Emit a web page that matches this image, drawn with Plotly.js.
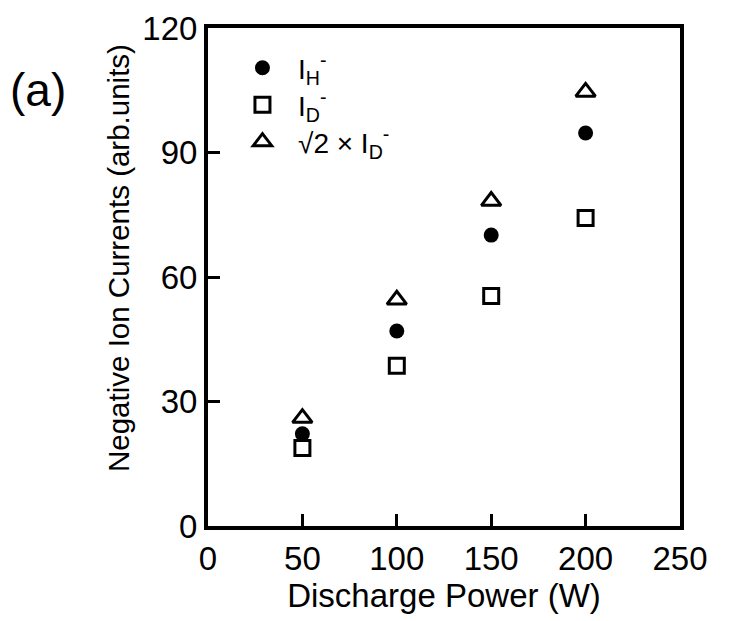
<!DOCTYPE html>
<html>
<head>
<meta charset="utf-8">
<script src="https://cdn.plot.ly/plotly-3.0.1.min.js"></script>
<style>html,body{margin:0;padding:0;background:#fff}#chart{width:738px;height:621px}</style>
</head>
<body>
<div id="chart"></div>
<script>
const power = [50, 100, 150, 200];
const iH = [22.2, 47.0, 70.1, 94.7];
const iD = [18.8, 38.6, 55.4, 74.2];
const sqrt2iD = [26.0, 54.5, 78.3, 104.6];
const seriesNames = ["I<sub>H</sub><sup>-</sup>", "I<sub>D</sub><sup>-</sup>", "\u221A2 \u00D7 I<sub>D</sub><sup>-</sup>"];
const xTicks = [0, 50, 100, 150, 200, 250];
const yTicks = [0, 30, 60, 90, 120];
const xTitle = "Discharge Power (W)";
const yTitle = "Negative Ion Currents (arb.units)";
const panelLabel = "(a)";

const FONT = "Liberation Sans, Arial, Helvetica, sans-serif";
const PAD = "\u00A0\u00A0";

const traces = [
  {x: power, y: iH, name: PAD + seriesNames[0], type: "scatter", mode: "markers", legend: "legend",
   marker: {symbol: "circle", size: 15, color: "#000"}},
  {x: power, y: iD, name: PAD + seriesNames[1], type: "scatter", mode: "markers", legend: "legend2",
   marker: {symbol: "square-open", size: 15, color: "#000", line: {width: 3}}},
  {x: power, y: sqrt2iD, name: PAD + seriesNames[2], type: "scatter", mode: "markers", legend: "legend3",
   marker: {symbol: "triangle-up-open", size: 17, color: "#000", line: {width: 3}}}
];

const legBase = {bgcolor: "rgba(0,0,0,0)", borderwidth: 0, font: {family: FONT, size: 28, color: "#000"},
  xanchor: "left", yanchor: "middle", x: 0.073};

const layout = {
  width: 738, height: 621,
  margin: {l: 208, r: 58, t: 28, b: 95},
  paper_bgcolor: "#fff", plot_bgcolor: "#fff",
  font: {family: FONT, color: "#000"},
  showlegend: true,
  legend: Object.assign({}, legBase, {y: (526 - 68) / 498}),
  legend2: Object.assign({}, legBase, {y: (526 - 105) / 498}),
  legend3: Object.assign({}, legBase, {y: (526 - 142) / 498}),
  xaxis: {
    range: [0, 250], tickvals: xTicks, ticktext: xTicks.map(String),
    ticks: "inside", ticklen: 12, tickwidth: 3, tickcolor: "#000",
    showline: true, linewidth: 4, linecolor: "#000", mirror: true,
    showgrid: false, zeroline: false,
    tickfont: {family: FONT, size: 33, color: "#000"},
    title: {text: xTitle, font: {family: FONT, size: 33, color: "#000"}, standoff: 6}
  },
  yaxis: {
    range: [0, 120], tickvals: yTicks, ticktext: yTicks.map(String),
    ticks: "inside", ticklen: 12, tickwidth: 3, tickcolor: "#000",
    showline: true, linewidth: 4, linecolor: "#000", mirror: true,
    showgrid: false, zeroline: false,
    tickfont: {family: FONT, size: 33, color: "#000"}
  },
  annotations: [
    {text: panelLabel, xref: "paper", yref: "paper", x: (38 - 208) / 472, y: (526 - 90) / 498,
     xanchor: "center", yanchor: "middle", showarrow: false, font: {family: FONT, size: 46, color: "#000"}},
    {text: yTitle, xref: "paper", yref: "paper", x: (118 - 208) / 472, y: (526 - 258) / 498,
     xanchor: "center", yanchor: "middle", textangle: -90, showarrow: false,
     font: {family: FONT, size: 29.5, color: "#000"}}
  ]
};

Plotly.newPlot("chart", traces, layout, {staticPlot: true});
</script>
</body>
</html>
